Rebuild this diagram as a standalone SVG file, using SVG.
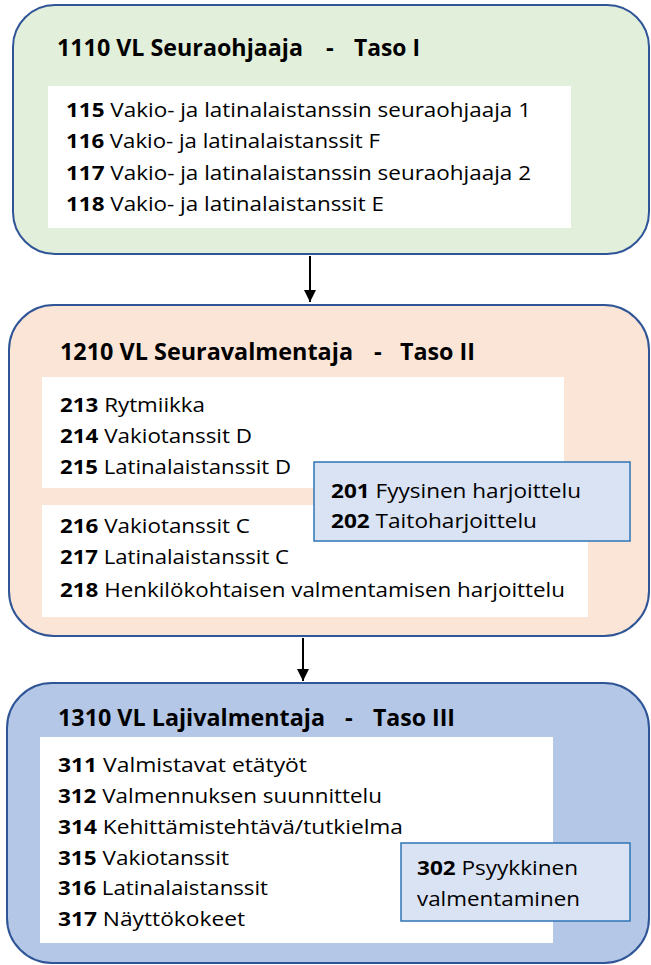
<svg xmlns="http://www.w3.org/2000/svg" width="651" height="965" viewBox="0 0 651 965">
<defs>
<style>
text{font-family:"Open Sans","Noto Sans","Liberation Sans",sans-serif;fill:#000;font-size:19.5px}
.t{font-weight:bold;font-size:24px}
.b{font-weight:bold}
.outer{stroke:#2f5597;stroke-width:2}
.white{fill:#fff}
.note{fill:#dae3f3;stroke:#2e75b6;stroke-width:1.5}
.conn{stroke:#000;stroke-width:2;fill:none}
</style>
<marker id="ah" viewBox="0 0 10 10" refX="10" refY="5" markerWidth="6" markerHeight="6" markerUnits="strokeWidth" orient="auto">
<path d="M0,0 L10,5 L0,10 z" fill="#000"/>
</marker>
</defs>

<g id="taso1">
<rect class="outer" x="13" y="5" width="636" height="249" rx="42" ry="42" fill="#e2efda"/>
<text class="t" x="57" y="56" textLength="246" lengthAdjust="spacingAndGlyphs">1110 VL Seuraohjaaja</text>
<text class="t" x="326" y="56">-</text>
<text class="t" x="354" y="56" textLength="66" lengthAdjust="spacingAndGlyphs">Taso I</text>
<rect class="white" x="48" y="86" width="523" height="142"/>
<text x="66" y="117" textLength="465" lengthAdjust="spacingAndGlyphs"><tspan class="b">115</tspan> Vakio- ja latinalaistanssin seuraohjaaja 1</text>
<text x="66" y="148" textLength="314" lengthAdjust="spacingAndGlyphs"><tspan class="b">116</tspan> Vakio- ja latinalaistanssit F</text>
<text x="66" y="180" textLength="465" lengthAdjust="spacingAndGlyphs"><tspan class="b">117</tspan> Vakio- ja latinalaistanssin seuraohjaaja 2</text>
<text x="66" y="211" textLength="318" lengthAdjust="spacingAndGlyphs"><tspan class="b">118</tspan> Vakio- ja latinalaistanssit E</text>
</g>

<g id="taso2">
<rect class="outer" x="9" y="305" width="640" height="331" rx="45" ry="45" fill="#fbe5d6"/>
<text class="t" x="60" y="360" textLength="293" lengthAdjust="spacingAndGlyphs">1210 VL Seuravalmentaja</text>
<text class="t" x="374" y="360">-</text>
<text class="t" x="400" y="360" textLength="75" lengthAdjust="spacingAndGlyphs">Taso II</text>
<rect class="white" x="42" y="377" width="522" height="111"/>
<rect class="white" x="42" y="505" width="546" height="112"/>
<text x="60" y="412" textLength="145" lengthAdjust="spacingAndGlyphs"><tspan class="b">213</tspan> Rytmiikka</text>
<text x="60" y="443" textLength="192" lengthAdjust="spacingAndGlyphs"><tspan class="b">214</tspan> Vakiotanssit D</text>
<text x="60" y="474" textLength="231" lengthAdjust="spacingAndGlyphs"><tspan class="b">215</tspan> Latinalaistanssit D</text>
<text x="60" y="533" textLength="190" lengthAdjust="spacingAndGlyphs"><tspan class="b">216</tspan> Vakiotanssit C</text>
<text x="60" y="564" textLength="229" lengthAdjust="spacingAndGlyphs"><tspan class="b">217</tspan> Latinalaistanssit C</text>
<text x="60" y="597" textLength="505" lengthAdjust="spacingAndGlyphs"><tspan class="b">218</tspan> Henkilökohtaisen valmentamisen harjoittelu</text>
</g>

<g id="note201">
<rect class="note" x="314" y="462" width="316" height="79"/>
<text x="331" y="498" textLength="250" lengthAdjust="spacingAndGlyphs"><tspan class="b">201</tspan> Fyysinen harjoittelu</text>
<text x="331" y="528" textLength="206" lengthAdjust="spacingAndGlyphs"><tspan class="b">202</tspan> Taitoharjoittelu</text>
</g>

<g id="taso3">
<rect class="outer" x="7" y="683" width="642" height="280" rx="45" ry="45" fill="#b4c7e7"/>
<text class="t" x="58" y="726" textLength="267" lengthAdjust="spacingAndGlyphs">1310 VL Lajivalmentaja</text>
<text class="t" x="345" y="726">-</text>
<text class="t" x="373" y="726" textLength="82" lengthAdjust="spacingAndGlyphs">Taso III</text>
<rect class="white" x="40" y="737" width="513" height="206"/>
<text x="58" y="772" textLength="249" lengthAdjust="spacingAndGlyphs"><tspan class="b">311</tspan> Valmistavat etätyöt</text>
<text x="58" y="803" textLength="324" lengthAdjust="spacingAndGlyphs"><tspan class="b">312</tspan> Valmennuksen suunnittelu</text>
<text x="58" y="834" textLength="345" lengthAdjust="spacingAndGlyphs"><tspan class="b">314</tspan> Kehittämistehtävä/tutkielma</text>
<text x="58" y="865" textLength="171" lengthAdjust="spacingAndGlyphs"><tspan class="b">315</tspan> Vakiotanssit</text>
<text x="58" y="895" textLength="210" lengthAdjust="spacingAndGlyphs"><tspan class="b">316</tspan> Latinalaistanssit</text>
<text x="58" y="926" textLength="187" lengthAdjust="spacingAndGlyphs"><tspan class="b">317</tspan> Näyttökokeet</text>
</g>

<g id="note302">
<rect class="note" x="401" y="843" width="229" height="78"/>
<text x="417" y="875" textLength="161" lengthAdjust="spacingAndGlyphs"><tspan class="b">302</tspan> Psyykkinen</text>
<text x="417" y="906" textLength="163" lengthAdjust="spacingAndGlyphs">valmentaminen</text>
</g>

<g id="connectors">
<line class="conn" x1="310" y1="256" x2="310" y2="302" marker-end="url(#ah)"/>
<line class="conn" x1="303" y1="638" x2="303" y2="681" marker-end="url(#ah)"/>
</g>
</svg>
